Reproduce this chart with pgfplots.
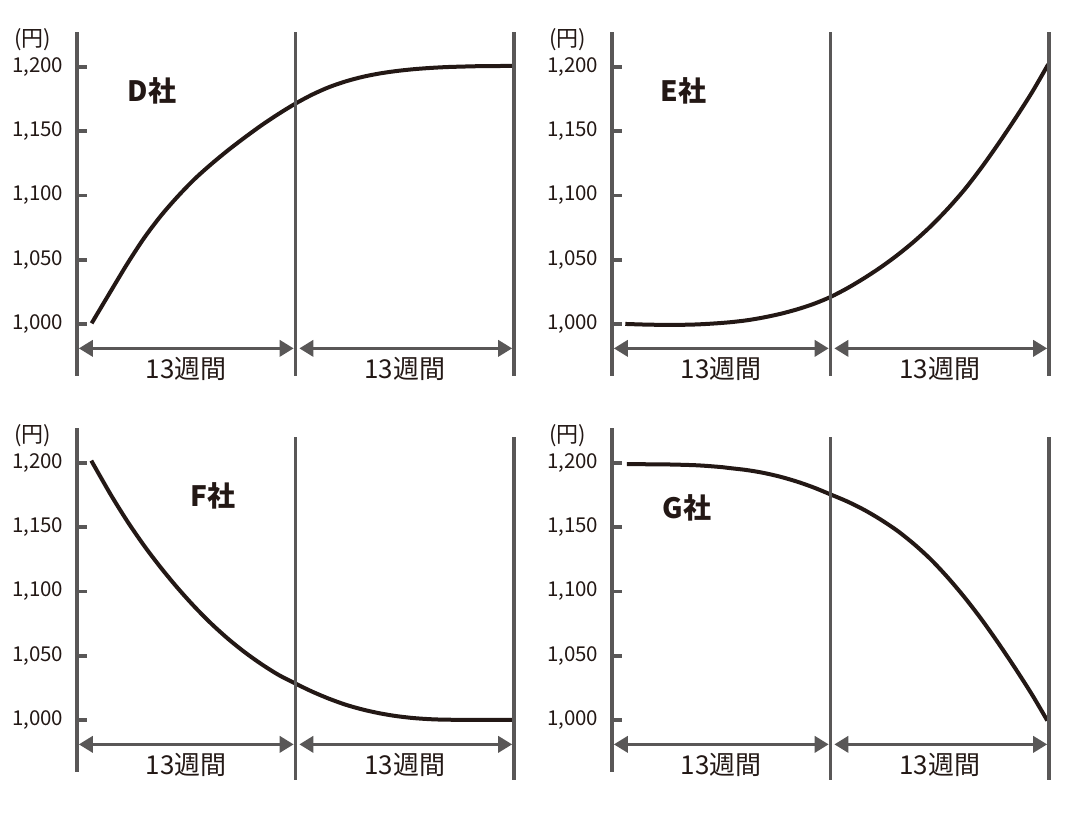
\documentclass[border=0pt]{standalone}
\usepackage{pgfplots}
\pgfplotsset{compat=1.18}
\usepackage{fontspec}
\setmainfont{Noto Sans CJK JP}
\usetikzlibrary{arrows.meta}
\definecolor{axgray}{HTML}{595757}
\definecolor{ink}{HTML}{231815}
\pgfplotsset{
  panel/.style={
    scale only axis, width=218.5pt, height=172pt,
    anchor=south west,
    xmin=0, xmax=26, ymin=959.5, ymax=1227.2,
    axis x line=none, axis y line=left,
    y axis line style={-, line width=1.85pt, color=axgray},
    ytick={1000,1050,1100,1150,1200},
    tick align=inside, major tick length=5pt,
    ytick style={line width=1.85pt, color=axgray},
    /pgf/number format/assume math mode=true,
    /pgf/number format/1000 sep={,},
    yticklabel style={font=\fontsize{10.25}{11}\selectfont, text=ink, xshift=-3.3pt},
    clip=false,
  },
  curve/.style={smooth, line width=2pt, color=ink, no markers},
}
\newcommand{\dividers}[2]{%
  \draw[axgray, line width=1.85pt] (axis cs:13,#1) -- (axis cs:13,#2);
  \draw[axgray, line width=1.85pt] (axis cs:26,#1) -- (axis cs:26,#2);
  \draw[axgray, line width=1.75pt, shorten <=0.9pt, shorten >=0.9pt,
        {Triangle[length=7pt,width=8pt]}-{Triangle[length=7pt,width=8pt]}]
        (axis cs:0,981) -- (axis cs:13,981);
  \draw[axgray, line width=1.75pt, shorten <=1.9pt, shorten >=0.9pt,
        {Triangle[length=7pt,width=8pt]}-{Triangle[length=7pt,width=8pt]}]
        (axis cs:13,981) -- (axis cs:26,981);
  \node[font=\fontsize{13}{14}\selectfont, text=ink] at (axis cs:6.5,965) {13週間};
  \node[font=\fontsize{13}{14}\selectfont, text=ink] at (axis cs:19.5,965) {13週間};
  \node[font=\fontsize{11}{12}\selectfont, text=ink] at (axis cs:-2.65,1221) {(円)};
}
\begin{document}
\begin{tikzpicture}
\path[use as bounding box] (0,0) rectangle (540pt,409pt);
% D
\begin{axis}[panel, at={(38.5pt,221pt)}]
\addplot[curve] coordinates {(0.87,1000.5) (2,1025.3) (3,1047) (4,1067) (5,1084.3) (6,1099.3) (7,1112.8) (8,1124.5) (9,1135.3) (10,1145.3) (11,1154.8) (12,1163.5) (13,1171.5) (14,1178.5) (15,1184.3) (16,1188.8) (17,1192.3) (18,1194.9) (19,1196.8) (20,1198.2) (21,1199.2) (22,1199.9) (23,1200.3) (24,1200.6) (26,1200.8)};
\dividers{959.5}{1227.2}
\node[font=\bfseries\fontsize{14}{16}\selectfont, text=ink] at (axis cs:4.45,1181) {D社};
\end{axis}
% E
\begin{axis}[panel, at={(306pt,221pt)}]
\addplot[curve] coordinates {(0.79,1000) (2,999.5) (3,999.3) (4,999.3) (5,999.6) (6,1000.3) (7,1001.3) (8,1002.8) (9,1005) (10,1007.8) (11,1011.3) (12,1015.6) (13,1021) (14,1027.8) (15,1035.6) (16,1044.2) (17,1053.8) (18,1064.5) (19,1076.5) (20,1090) (21,1105) (22,1122) (23,1140.5) (24,1160) (25,1180.5) (25.95,1202)};
\dividers{959.5}{1227.2}
\node[font=\bfseries\fontsize{14}{16}\selectfont, text=ink] at (axis cs:4.25,1181) {E社};
\end{axis}
% F
\begin{axis}[panel, at={(38.5pt,23pt)}]
\addplot[curve] coordinates {(0.85,1201.8) (2,1175.5) (3,1154.5) (4,1135.5) (5,1118.3) (6,1102.5) (7,1088) (8,1074.8) (9,1063) (10,1052.5) (11,1043.2) (12,1035) (13,1028.3) (14,1022) (15,1016.5) (16,1011.8) (17,1008.1) (18,1005.2) (19,1003) (20,1001.5) (21,1000.6) (22,1000.2) (24,1000) (26,1000)};
\dividers{953.5}{1220.2}
\node[font=\bfseries\fontsize{14}{16}\selectfont, text=ink] at (axis cs:8.1,1174.5) {F社};
\end{axis}
% G
\begin{axis}[panel, at={(306pt,23pt)}]
\addplot[curve] coordinates {(0.88,1199) (3,1198.9) (5,1198.2) (6.4,1196.9) (7,1196) (8,1194.5) (9,1192.3) (10,1189.3) (11,1185.5) (12,1180.9) (13,1175.5) (14,1170) (15,1163.5) (16,1155.8) (17,1147) (18,1136.5) (19,1124.5) (20,1110.5) (21,1095) (22,1078) (23,1059.5) (24,1040) (25,1019.5) (25.9,999.5)};
\dividers{953.5}{1220.2}
\node[font=\bfseries\fontsize{14}{16}\selectfont, text=ink] at (axis cs:4.45,1165) {G社};
\end{axis}
\end{tikzpicture}
\end{document}
